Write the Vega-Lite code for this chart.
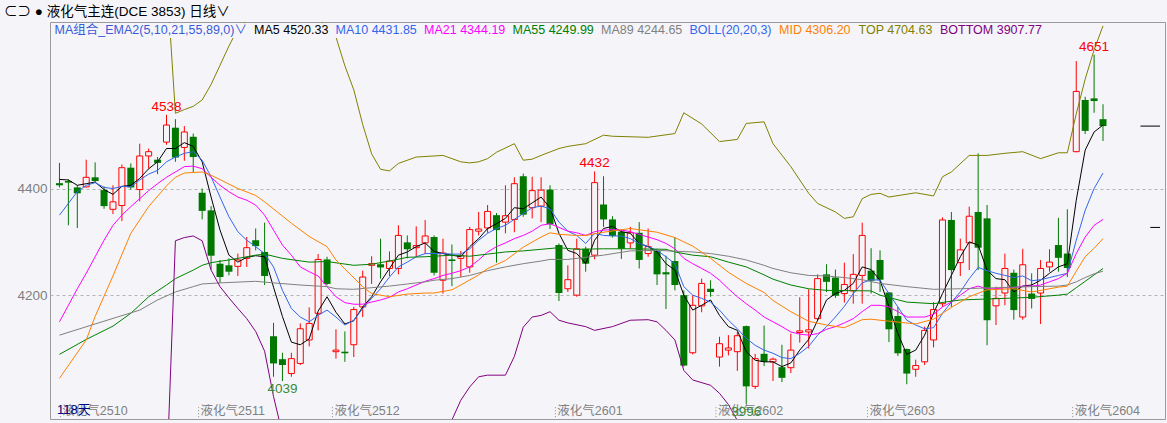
{
"$schema":"https://vega.github.io/schema/vega-lite/v6.json",
"width":1115,"height":397,
"autosize":{"type":"none"},
"padding":{"left":50,"top":22,"right":2,"bottom":4},
"background":"#f5f5f9",
"config":{"view":{"stroke":"#9a9a9a","fill":"#f5f5f9"},"font":"Liberation Sans, Noto Sans CJK SC",
 "axisY":{"title":null,"grid":true,"gridDash":[3,3],"gridColor":"#b4b4b4","domain":false,"ticks":false,"labelColor":"#808080","labelFontSize":13.5,"labelPadding":3,"labelFont":"Liberation Sans"}},
"title":{"text":"⊂⊃ ● 液化气主连(DCE 3853)  日线∨","anchor":"start","frame":"group","dx":-46,"dy":13,"offset":3,"fontSize":13.5,"fontWeight":"normal","font":"Liberation Sans, Noto Sans CJK SC","color":"#000000","baseline":"bottom"},
"datasets":{
"candles":[
{"i":0,"o":4410,"h":4448,"l":4402,"c":4406,"MA5":4417,"MA10":4350,"MA21":4150},
{"i":1,"o":4414,"h":4417,"l":4331,"c":4411,"MA5":4416,"MA10":4372,"MA21":4181},
{"i":2,"o":4402,"h":4406,"l":4326,"c":4391,"MA5":4406,"MA10":4394,"MA21":4212},
{"i":3,"o":4403,"h":4454,"l":4402,"c":4421,"MA5":4409,"MA10":4406,"MA21":4241},
{"i":4,"o":4421,"h":4449,"l":4412,"c":4414,"MA5":4412,"MA10":4411,"MA21":4272},
{"i":5,"o":4397,"h":4404,"l":4362,"c":4367,"MA5":4398,"MA10":4402,"MA21":4303},
{"i":6,"o":4361,"h":4406,"l":4352,"c":4375,"MA5":4389,"MA10":4400,"MA21":4331},
{"i":7,"o":4368,"h":4445,"l":4339,"c":4439,"MA5":4404,"MA10":4404,"MA21":4350},
{"i":8,"o":4439,"h":4447,"l":4398,"c":4402,"MA5":4406,"MA10":4403,"MA21":4366},
{"i":9,"o":4398,"h":4484,"l":4376,"c":4461,"MA5":4419,"MA10":4416,"MA21":4381},
{"i":10,"o":4461,"h":4475,"l":4437,"c":4469,"MA5":4437,"MA10":4427,"MA21":4396},
{"i":11,"o":4454,"h":4459,"l":4427,"c":4448,"MA5":4450,"MA10":4434,"MA21":4409},
{"i":12,"o":4487,"h":4538,"l":4482,"c":4519,"MA5":4475,"MA10":4450,"MA21":4421},
{"i":13,"o":4514,"h":4530,"l":4450,"c":4458,"MA5":4475,"MA10":4459,"MA21":4431},
{"i":14,"o":4477,"h":4517,"l":4452,"c":4506,"MA5":4486,"MA10":4466,"MA21":4441},
{"i":15,"o":4497,"h":4503,"l":4431,"c":4459,"MA5":4479,"MA10":4469,"MA21":4442},
{"i":16,"o":4392,"h":4400,"l":4342,"c":4358,"MA5":4450,"MA10":4453,"MA21":4437},
{"i":17,"o":4359,"h":4367,"l":4248,"c":4274,"MA5":4384,"MA10":4422,"MA21":4421},
{"i":18,"o":4259,"h":4266,"l":4223,"c":4234,"MA5":4322,"MA10":4384,"MA21":4406},
{"i":19,"o":4256,"h":4269,"l":4237,"c":4244,"MA5":4275,"MA10":4347,"MA21":4394},
{"i":20,"o":4254,"h":4278,"l":4236,"c":4266,"MA5":4262,"MA10":4319,"MA21":4384},
{"i":21,"o":4269,"h":4309,"l":4253,"c":4289,"MA5":4271,"MA10":4303,"MA21":4378},
{"i":22,"o":4303,"h":4325,"l":4284,"c":4292,"MA5":4274,"MA10":4291,"MA21":4369},
{"i":23,"o":4281,"h":4336,"l":4219,"c":4236,"MA5":4272,"MA10":4278,"MA21":4350},
{"i":24,"o":4123,"h":4148,"l":4047,"c":4072,"MA5":4215,"MA10":4253,"MA21":4322},
{"i":25,"o":4080,"h":4092,"l":4039,"c":4069,"MA5":4160,"MA10":4209,"MA21":4294},
{"i":26,"o":4053,"h":4092,"l":4047,"c":4081,"MA5":4112,"MA10":4175,"MA21":4275},
{"i":27,"o":4072,"h":4147,"l":4069,"c":4137,"MA5":4107,"MA10":4159,"MA21":4253},
{"i":28,"o":4116,"h":4177,"l":4104,"c":4147,"MA5":4118,"MA10":4150,"MA21":4244},
{"i":29,"o":4166,"h":4277,"l":4134,"c":4267,"MA5":4170,"MA10":4162,"MA21":4236},
{"i":30,"o":4267,"h":4272,"l":4219,"c":4221,"MA5":4197,"MA10":4172,"MA21":4216},
{"i":31,"o":4094,"h":4136,"l":4081,"c":4097,"MA5":4168,"MA10":4159,"MA21":4197},
{"i":32,"o":4094,"h":4132,"l":4075,"c":4091,"MA5":4146,"MA10":4144,"MA21":4186},
{"i":33,"o":4107,"h":4178,"l":4084,"c":4173,"MA5":4152,"MA10":4153,"MA21":4183},
{"i":34,"o":4178,"h":4246,"l":4159,"c":4234,"MA5":4178,"MA10":4175,"MA21":4183},
{"i":35,"o":4256,"h":4273,"l":4221,"c":4259,"MA5":4197,"MA10":4194,"MA21":4187},
{"i":36,"o":4258,"h":4306,"l":4231,"c":4252,"MA5":4225,"MA10":4212,"MA21":4191},
{"i":37,"o":4250,"h":4282,"l":4236,"c":4264,"MA5":4250,"MA10":4234,"MA21":4196},
{"i":38,"o":4250,"h":4331,"l":4239,"c":4312,"MA5":4275,"MA10":4253,"MA21":4206},
{"i":39,"o":4299,"h":4312,"l":4269,"c":4286,"MA5":4281,"MA10":4262,"MA21":4212},
{"i":40,"o":4289,"h":4329,"l":4272,"c":4293,"MA5":4291,"MA10":4272,"MA21":4219},
{"i":41,"o":4298,"h":4341,"l":4277,"c":4311,"MA5":4298,"MA10":4278,"MA21":4226},
{"i":42,"o":4309,"h":4312,"l":4237,"c":4242,"MA5":4282,"MA10":4278,"MA21":4231},
{"i":43,"o":4228,"h":4306,"l":4203,"c":4279,"MA5":4278,"MA10":4278,"MA21":4237},
{"i":44,"o":4267,"h":4295,"l":4217,"c":4264,"MA5":4275,"MA10":4277,"MA21":4241},
{"i":45,"o":4269,"h":4283,"l":4234,"c":4274,"MA5":4272,"MA10":4277,"MA21":4246},
{"i":46,"o":4253,"h":4328,"l":4242,"c":4323,"MA5":4291,"MA10":4287,"MA21":4253},
{"i":47,"o":4320,"h":4356,"l":4312,"c":4324,"MA5":4306,"MA10":4303,"MA21":4266},
{"i":48,"o":4326,"h":4369,"l":4317,"c":4357,"MA5":4325,"MA10":4316,"MA21":4281},
{"i":49,"o":4350,"h":4354,"l":4261,"c":4322,"MA5":4334,"MA10":4325,"MA21":4291},
{"i":50,"o":4337,"h":4406,"l":4316,"c":4349,"MA5":4344,"MA10":4331,"MA21":4298},
{"i":51,"o":4342,"h":4421,"l":4318,"c":4409,"MA5":4364,"MA10":4342,"MA21":4306},
{"i":52,"o":4423,"h":4428,"l":4347,"c":4351,"MA5":4362,"MA10":4353,"MA21":4312},
{"i":53,"o":4364,"h":4422,"l":4344,"c":4396,"MA5":4373,"MA10":4364,"MA21":4320},
{"i":54,"o":4367,"h":4421,"l":4337,"c":4397,"MA5":4384,"MA10":4367,"MA21":4331},
{"i":55,"o":4398,"h":4406,"l":4324,"c":4333,"MA5":4364,"MA10":4362,"MA21":4334},
{"i":56,"o":4294,"h":4297,"l":4189,"c":4204,"MA5":4316,"MA10":4337,"MA21":4327},
{"i":57,"o":4212,"h":4256,"l":4206,"c":4229,"MA5":4284,"MA10":4320,"MA21":4320},
{"i":58,"o":4200,"h":4306,"l":4197,"c":4287,"MA5":4278,"MA10":4312,"MA21":4317},
{"i":59,"o":4287,"h":4291,"l":4244,"c":4259,"MA5":4259,"MA10":4297,"MA21":4312},
{"i":60,"o":4275,"h":4432,"l":4267,"c":4411,"MA5":4303,"MA10":4316,"MA21":4319},
{"i":61,"o":4370,"h":4423,"l":4328,"c":4342,"MA5":4325,"MA10":4312,"MA21":4322},
{"i":62,"o":4342,"h":4348,"l":4308,"c":4311,"MA5":4329,"MA10":4311,"MA21":4323},
{"i":63,"o":4319,"h":4322,"l":4268,"c":4287,"MA5":4319,"MA10":4311,"MA21":4322},
{"i":64,"o":4298,"h":4328,"l":4287,"c":4317,"MA5":4316,"MA10":4306,"MA21":4319},
{"i":65,"o":4317,"h":4337,"l":4250,"c":4266,"MA5":4297,"MA10":4297,"MA21":4314},
{"i":66,"o":4278,"h":4325,"l":4272,"c":4291,"MA5":4291,"MA10":4291,"MA21":4309},
{"i":67,"o":4283,"h":4287,"l":4219,"c":4239,"MA5":4281,"MA10":4284,"MA21":4304},
{"i":68,"o":4243,"h":4274,"l":4174,"c":4239,"MA5":4259,"MA10":4272,"MA21":4297},
{"i":69,"o":4264,"h":4309,"l":4209,"c":4219,"MA5":4247,"MA10":4259,"MA21":4287},
{"i":70,"o":4200,"h":4209,"l":4066,"c":4068,"MA5":4200,"MA10":4216,"MA21":4269},
{"i":71,"o":4092,"h":4200,"l":4089,"c":4181,"MA5":4172,"MA10":4200,"MA21":4259},
{"i":72,"o":4180,"h":4231,"l":4168,"c":4222,"MA5":4181,"MA10":4194,"MA21":4250},
{"i":73,"o":4212,"h":4228,"l":4197,"c":4206,"MA5":4191,"MA10":4187,"MA21":4241},
{"i":74,"o":4084,"h":4122,"l":4066,"c":4109,"MA5":4162,"MA10":4172,"MA21":4228},
{"i":75,"o":4097,"h":4125,"l":4087,"c":4101,"MA5":4141,"MA10":4153,"MA21":4212},
{"i":76,"o":4094,"h":4131,"l":4058,"c":4124,"MA5":4134,"MA10":4137,"MA21":4197},
{"i":77,"o":4142,"h":4143,"l":3996,"c":4029,"MA5":4094,"MA10":4119,"MA21":4184},
{"i":78,"o":4029,"h":4090,"l":4024,"c":4081,"MA5":4078,"MA10":4106,"MA21":4172},
{"i":79,"o":4090,"h":4143,"l":4067,"c":4075,"MA5":4075,"MA10":4097,"MA21":4159},
{"i":80,"o":4075,"h":4083,"l":4039,"c":4080,"MA5":4075,"MA10":4091,"MA21":4150},
{"i":81,"o":4065,"h":4107,"l":4037,"c":4045,"MA5":4066,"MA10":4083,"MA21":4141},
{"i":82,"o":4064,"h":4128,"l":4054,"c":4097,"MA5":4073,"MA10":4081,"MA21":4131},
{"i":83,"o":4130,"h":4196,"l":4111,"c":4133,"MA5":4097,"MA10":4091,"MA21":4127},
{"i":84,"o":4131,"h":4211,"l":4100,"c":4135,"MA5":4117,"MA10":4104,"MA21":4125},
{"i":85,"o":4156,"h":4239,"l":4152,"c":4231,"MA5":4153,"MA10":4125,"MA21":4128},
{"i":86,"o":4239,"h":4258,"l":4206,"c":4225,"MA5":4191,"MA10":4141,"MA21":4136},
{"i":87,"o":4233,"h":4248,"l":4195,"c":4199,"MA5":4203,"MA10":4159,"MA21":4141},
{"i":88,"o":4203,"h":4261,"l":4186,"c":4220,"MA5":4209,"MA10":4179,"MA21":4148},
{"i":89,"o":4208,"h":4277,"l":4184,"c":4239,"MA5":4222,"MA10":4203,"MA21":4156},
{"i":90,"o":4237,"h":4336,"l":4184,"c":4312,"MA5":4253,"MA10":4223,"MA21":4169},
{"i":91,"o":4246,"h":4288,"l":4203,"c":4227,"MA5":4248,"MA10":4229,"MA21":4181},
{"i":92,"o":4266,"h":4284,"l":4206,"c":4229,"MA5":4228,"MA10":4228,"MA21":4181},
{"i":93,"o":4205,"h":4206,"l":4112,"c":4136,"MA5":4178,"MA10":4203,"MA21":4178},
{"i":94,"o":4161,"h":4178,"l":4086,"c":4091,"MA5":4128,"MA10":4178,"MA21":4169},
{"i":95,"o":4099,"h":4100,"l":4033,"c":4053,"MA5":4089,"MA10":4153,"MA21":4159},
{"i":96,"o":4061,"h":4079,"l":4047,"c":4068,"MA5":4097,"MA10":4144,"MA21":4159},
{"i":97,"o":4075,"h":4141,"l":4069,"c":4134,"MA5":4125,"MA10":4137,"MA21":4159},
{"i":98,"o":4116,"h":4187,"l":4102,"c":4173,"MA5":4166,"MA10":4139,"MA21":4164},
{"i":99,"o":4184,"h":4346,"l":4178,"c":4341,"MA5":4203,"MA10":4166,"MA21":4178},
{"i":100,"o":4341,"h":4356,"l":4178,"c":4247,"MA5":4237,"MA10":4187,"MA21":4187},
{"i":101,"o":4261,"h":4306,"l":4236,"c":4285,"MA5":4272,"MA10":4206,"MA21":4200},
{"i":102,"o":4298,"h":4366,"l":4247,"c":4348,"MA5":4300,"MA10":4231,"MA21":4212},
{"i":103,"o":4356,"h":4466,"l":4247,"c":4289,"MA5":4294,"MA10":4252,"MA21":4217},
{"i":104,"o":4344,"h":4369,"l":4106,"c":4153,"MA5":4247,"MA10":4246,"MA21":4212},
{"i":105,"o":4180,"h":4216,"l":4144,"c":4194,"MA5":4231,"MA10":4241,"MA21":4212},
{"i":106,"o":4204,"h":4278,"l":4181,"c":4250,"MA5":4229,"MA10":4237,"MA21":4214},
{"i":107,"o":4242,"h":4248,"l":4154,"c":4172,"MA5":4206,"MA10":4233,"MA21":4214},
{"i":108,"o":4159,"h":4287,"l":4154,"c":4257,"MA5":4217,"MA10":4236,"MA21":4217},
{"i":109,"o":4203,"h":4241,"l":4175,"c":4193,"MA5":4219,"MA10":4227,"MA21":4217},
{"i":110,"o":4204,"h":4266,"l":4146,"c":4250,"MA5":4228,"MA10":4229,"MA21":4219},
{"i":111,"o":4253,"h":4286,"l":4244,"c":4262,"MA5":4241,"MA10":4233,"MA21":4225},
{"i":112,"o":4294,"h":4345,"l":4244,"c":4270,"MA5":4253,"MA10":4237,"MA21":4231},
{"i":113,"o":4278,"h":4361,"l":4234,"c":4251,"MA5":4259,"MA10":4241,"MA21":4241},
{"i":114,"o":4469,"h":4639,"l":4468,"c":4582,"MA5":4378,"MA10":4303,"MA21":4278},
{"i":115,"o":4566,"h":4572,"l":4502,"c":4508,"MA5":4472,"MA10":4359,"MA21":4309},
{"i":116,"o":4569,"h":4651,"l":4542,"c":4564,"MA5":4506,"MA10":4400,"MA21":4331},
{"i":117,"o":4530,"h":4558,"l":4489,"c":4517,"MA5":4519,"MA10":4429,"MA21":4342}
],
"sparse":[
{"s":"MA55","i":0,"v":4089},{"s":"MA55","i":3,"v":4117},{"s":"MA55","i":6,"v":4142},{"s":"MA55","i":8,"v":4166},{"s":"MA55","i":10,"v":4197},{"s":"MA55","i":12,"v":4219},{"s":"MA55","i":13,"v":4231},{"s":"MA55","i":15,"v":4247},{"s":"MA55","i":16,"v":4256},{"s":"MA55","i":17,"v":4261},{"s":"MA55","i":19,"v":4266},{"s":"MA55","i":22,"v":4275},{"s":"MA55","i":23,"v":4277},{"s":"MA55","i":25,"v":4269},{"s":"MA55","i":28,"v":4262},{"s":"MA55","i":30,"v":4263},{"s":"MA55","i":33,"v":4256},{"s":"MA55","i":35,"v":4258},{"s":"MA55","i":37,"v":4264},{"s":"MA55","i":39,"v":4271},{"s":"MA55","i":41,"v":4272},{"s":"MA55","i":44,"v":4275},{"s":"MA55","i":46,"v":4273},{"s":"MA55","i":48,"v":4277},{"s":"MA55","i":50,"v":4281},{"s":"MA55","i":52,"v":4283},{"s":"MA55","i":54,"v":4286},{"s":"MA55","i":56,"v":4289},{"s":"MA55","i":58,"v":4286},{"s":"MA55","i":61,"v":4287},{"s":"MA55","i":64,"v":4287},{"s":"MA55","i":68,"v":4286},{"s":"MA55","i":69,"v":4281},{"s":"MA55","i":71,"v":4275},{"s":"MA55","i":73,"v":4272},{"s":"MA55","i":75,"v":4262},{"s":"MA55","i":77,"v":4253},{"s":"MA55","i":79,"v":4238},{"s":"MA55","i":80,"v":4230},{"s":"MA55","i":82,"v":4219},{"s":"MA55","i":84,"v":4212},{"s":"MA55","i":86,"v":4209},{"s":"MA55","i":91,"v":4208},{"s":"MA55","i":92,"v":4200},{"s":"MA55","i":95,"v":4187},{"s":"MA55","i":98,"v":4184},{"s":"MA55","i":101,"v":4191},{"s":"MA55","i":106,"v":4194},{"s":"MA55","i":109,"v":4196},{"s":"MA55","i":112,"v":4200},{"s":"MA55","i":113,"v":4202},{"s":"MA55","i":114,"v":4214},{"s":"MA55","i":115,"v":4226},{"s":"MA55","i":116,"v":4238},{"s":"MA55","i":117,"v":4250},
{"s":"MA89","i":0,"v":4125},{"s":"MA89","i":4,"v":4146},{"s":"MA89","i":9,"v":4172},{"s":"MA89","i":11,"v":4191},{"s":"MA89","i":13,"v":4206},{"s":"MA89","i":15,"v":4216},{"s":"MA89","i":16,"v":4221},{"s":"MA89","i":18,"v":4223},{"s":"MA89","i":22,"v":4226},{"s":"MA89","i":24,"v":4223},{"s":"MA89","i":27,"v":4219},{"s":"MA89","i":30,"v":4216},{"s":"MA89","i":31,"v":4212},{"s":"MA89","i":33,"v":4211},{"s":"MA89","i":35,"v":4214},{"s":"MA89","i":37,"v":4217},{"s":"MA89","i":39,"v":4221},{"s":"MA89","i":41,"v":4225},{"s":"MA89","i":42,"v":4228},{"s":"MA89","i":44,"v":4231},{"s":"MA89","i":46,"v":4237},{"s":"MA89","i":48,"v":4246},{"s":"MA89","i":50,"v":4253},{"s":"MA89","i":52,"v":4259},{"s":"MA89","i":54,"v":4264},{"s":"MA89","i":55,"v":4267},{"s":"MA89","i":57,"v":4267},{"s":"MA89","i":59,"v":4271},{"s":"MA89","i":61,"v":4275},{"s":"MA89","i":64,"v":4283},{"s":"MA89","i":67,"v":4284},{"s":"MA89","i":71,"v":4281},{"s":"MA89","i":73,"v":4278},{"s":"MA89","i":75,"v":4273},{"s":"MA89","i":77,"v":4266},{"s":"MA89","i":79,"v":4256},{"s":"MA89","i":80,"v":4250},{"s":"MA89","i":82,"v":4242},{"s":"MA89","i":84,"v":4237},{"s":"MA89","i":86,"v":4236},{"s":"MA89","i":88,"v":4233},{"s":"MA89","i":90,"v":4229},{"s":"MA89","i":92,"v":4222},{"s":"MA89","i":95,"v":4216},{"s":"MA89","i":98,"v":4211},{"s":"MA89","i":101,"v":4212},{"s":"MA89","i":105,"v":4214},{"s":"MA89","i":109,"v":4216},{"s":"MA89","i":112,"v":4217},{"s":"MA89","i":113,"v":4219},{"s":"MA89","i":114,"v":4225},{"s":"MA89","i":115,"v":4233},{"s":"MA89","i":116,"v":4240},{"s":"MA89","i":117,"v":4245},
{"s":"MID","i":0,"v":4044},{"s":"MID","i":3,"v":4116},{"s":"MID","i":4,"v":4160},{"s":"MID","i":5,"v":4198},{"s":"MID","i":6,"v":4236},{"s":"MID","i":8,"v":4316},{"s":"MID","i":10,"v":4366},{"s":"MID","i":12,"v":4405},{"s":"MID","i":13,"v":4421},{"s":"MID","i":14,"v":4429},{"s":"MID","i":16,"v":4431},{"s":"MID","i":17,"v":4425},{"s":"MID","i":20,"v":4400},{"s":"MID","i":22,"v":4387},{"s":"MID","i":23,"v":4375},{"s":"MID","i":26,"v":4335},{"s":"MID","i":28,"v":4310},{"s":"MID","i":30,"v":4291},{"s":"MID","i":31,"v":4266},{"s":"MID","i":32,"v":4249},{"s":"MID","i":34,"v":4216},{"s":"MID","i":35,"v":4203},{"s":"MID","i":37,"v":4197},{"s":"MID","i":39,"v":4202},{"s":"MID","i":41,"v":4204},{"s":"MID","i":42,"v":4204},{"s":"MID","i":44,"v":4210},{"s":"MID","i":45,"v":4219},{"s":"MID","i":47,"v":4238},{"s":"MID","i":48,"v":4250},{"s":"MID","i":50,"v":4265},{"s":"MID","i":52,"v":4290},{"s":"MID","i":54,"v":4309},{"s":"MID","i":55,"v":4317},{"s":"MID","i":56,"v":4314},{"s":"MID","i":58,"v":4312},{"s":"MID","i":59,"v":4312},{"s":"MID","i":61,"v":4318},{"s":"MID","i":64,"v":4325},{"s":"MID","i":67,"v":4318},{"s":"MID","i":69,"v":4308},{"s":"MID","i":71,"v":4292},{"s":"MID","i":73,"v":4269},{"s":"MID","i":75,"v":4243},{"s":"MID","i":77,"v":4222},{"s":"MID","i":79,"v":4205},{"s":"MID","i":80,"v":4190},{"s":"MID","i":82,"v":4169},{"s":"MID","i":84,"v":4151},{"s":"MID","i":86,"v":4144},{"s":"MID","i":88,"v":4139},{"s":"MID","i":90,"v":4154},{"s":"MID","i":91,"v":4155},{"s":"MID","i":92,"v":4153},{"s":"MID","i":96,"v":4146},{"s":"MID","i":98,"v":4155},{"s":"MID","i":100,"v":4177},{"s":"MID","i":102,"v":4197},{"s":"MID","i":104,"v":4210},{"s":"MID","i":107,"v":4212},{"s":"MID","i":109,"v":4206},{"s":"MID","i":112,"v":4215},{"s":"MID","i":113,"v":4217},{"s":"MID","i":114,"v":4245},{"s":"MID","i":115,"v":4272},{"s":"MID","i":116,"v":4288},{"s":"MID","i":117,"v":4306},
{"s":"TOP","i":12,"v":4800},{"s":"TOP","i":13,"v":4541},{"s":"TOP","i":14,"v":4548},{"s":"TOP","i":15,"v":4554},{"s":"TOP","i":16,"v":4566},{"s":"TOP","i":17,"v":4595},{"s":"TOP","i":18,"v":4631},{"s":"TOP","i":19,"v":4667},{"s":"TOP","i":20,"v":4700},{"s":"TOP","i":22,"v":4730},{"s":"TOP","i":26,"v":4740},{"s":"TOP","i":29,"v":4720},{"s":"TOP","i":31,"v":4684},{"s":"TOP","i":32,"v":4630},{"s":"TOP","i":33,"v":4585},{"s":"TOP","i":34,"v":4520},{"s":"TOP","i":35,"v":4465},{"s":"TOP","i":36,"v":4436},{"s":"TOP","i":37,"v":4433},{"s":"TOP","i":38,"v":4447},{"s":"TOP","i":40,"v":4459},{"s":"TOP","i":42,"v":4461},{"s":"TOP","i":43,"v":4462},{"s":"TOP","i":45,"v":4450},{"s":"TOP","i":46,"v":4448},{"s":"TOP","i":47,"v":4450},{"s":"TOP","i":48,"v":4456},{"s":"TOP","i":49,"v":4468},{"s":"TOP","i":51,"v":4484},{"s":"TOP","i":52,"v":4453},{"s":"TOP","i":53,"v":4455},{"s":"TOP","i":54,"v":4462},{"s":"TOP","i":56,"v":4475},{"s":"TOP","i":57,"v":4479},{"s":"TOP","i":59,"v":4484},{"s":"TOP","i":61,"v":4500},{"s":"TOP","i":62,"v":4498},{"s":"TOP","i":66,"v":4496},{"s":"TOP","i":69,"v":4503},{"s":"TOP","i":70,"v":4542},{"s":"TOP","i":72,"v":4521},{"s":"TOP","i":74,"v":4488},{"s":"TOP","i":76,"v":4492},{"s":"TOP","i":77,"v":4522},{"s":"TOP","i":79,"v":4525},{"s":"TOP","i":80,"v":4484},{"s":"TOP","i":82,"v":4441},{"s":"TOP","i":84,"v":4391},{"s":"TOP","i":85,"v":4372},{"s":"TOP","i":87,"v":4356},{"s":"TOP","i":88,"v":4344},{"s":"TOP","i":89,"v":4347},{"s":"TOP","i":90,"v":4381},{"s":"TOP","i":91,"v":4389},{"s":"TOP","i":92,"v":4391},{"s":"TOP","i":93,"v":4384},{"s":"TOP","i":96,"v":4392},{"s":"TOP","i":98,"v":4386},{"s":"TOP","i":99,"v":4422},{"s":"TOP","i":100,"v":4431},{"s":"TOP","i":102,"v":4462},{"s":"TOP","i":104,"v":4462},{"s":"TOP","i":106,"v":4466},{"s":"TOP","i":108,"v":4469},{"s":"TOP","i":110,"v":4456},{"s":"TOP","i":112,"v":4467},{"s":"TOP","i":113,"v":4467},{"s":"TOP","i":114,"v":4540},{"s":"TOP","i":115,"v":4605},{"s":"TOP","i":116,"v":4660},{"s":"TOP","i":117,"v":4705},
{"s":"BOTTOM","i":12,"v":3850},{"s":"BOTTOM","i":13,"v":4302},{"s":"BOTTOM","i":14,"v":4308},{"s":"BOTTOM","i":15,"v":4311},{"s":"BOTTOM","i":16,"v":4302},{"s":"BOTTOM","i":17,"v":4247},{"s":"BOTTOM","i":18,"v":4216},{"s":"BOTTOM","i":19,"v":4195},{"s":"BOTTOM","i":20,"v":4175},{"s":"BOTTOM","i":21,"v":4156},{"s":"BOTTOM","i":22,"v":4132},{"s":"BOTTOM","i":23,"v":4095},{"s":"BOTTOM","i":24,"v":4010},{"s":"BOTTOM","i":25,"v":3940},{"s":"BOTTOM","i":28,"v":3880},{"s":"BOTTOM","i":32,"v":3860},{"s":"BOTTOM","i":36,"v":3870},{"s":"BOTTOM","i":40,"v":3900},{"s":"BOTTOM","i":43,"v":3950},{"s":"BOTTOM","i":44,"v":3966},{"s":"BOTTOM","i":45,"v":4003},{"s":"BOTTOM","i":46,"v":4028},{"s":"BOTTOM","i":47,"v":4047},{"s":"BOTTOM","i":48,"v":4050},{"s":"BOTTOM","i":50,"v":4050},{"s":"BOTTOM","i":51,"v":4085},{"s":"BOTTOM","i":52,"v":4140},{"s":"BOTTOM","i":53,"v":4159},{"s":"BOTTOM","i":54,"v":4162},{"s":"BOTTOM","i":55,"v":4169},{"s":"BOTTOM","i":56,"v":4153},{"s":"BOTTOM","i":57,"v":4148},{"s":"BOTTOM","i":59,"v":4141},{"s":"BOTTOM","i":60,"v":4134},{"s":"BOTTOM","i":62,"v":4141},{"s":"BOTTOM","i":64,"v":4153},{"s":"BOTTOM","i":66,"v":4154},{"s":"BOTTOM","i":67,"v":4150},{"s":"BOTTOM","i":68,"v":4134},{"s":"BOTTOM","i":69,"v":4116},{"s":"BOTTOM","i":70,"v":4059},{"s":"BOTTOM","i":71,"v":4041},{"s":"BOTTOM","i":73,"v":4031},{"s":"BOTTOM","i":74,"v":4016},{"s":"BOTTOM","i":75,"v":3995},{"s":"BOTTOM","i":76,"v":3965},{"s":"BOTTOM","i":77,"v":3940},{"s":"BOTTOM","i":80,"v":3910},{"s":"BOTTOM","i":85,"v":3890},{"s":"BOTTOM","i":90,"v":3900},{"s":"BOTTOM","i":95,"v":3920},{"s":"BOTTOM","i":100,"v":3925},{"s":"BOTTOM","i":105,"v":3930},{"s":"BOTTOM","i":110,"v":3925},{"s":"BOTTOM","i":114,"v":3915},{"s":"BOTTOM","i":117,"v":3908}
],
"contracts":[
{"i":0.1,"t":"液化气2510"},{"i":15.6,"t":"液化气2511"},{"i":30.6,"t":"液化气2512"},{"i":55.6,"t":"液化气2601"},{"i":73.6,"t":"液化气2602"},{"i":90.6,"t":"液化气2603"},{"i":113.6,"t":"液化气2604"}
],
"extremes":[
{"i":12,"v":4538,"t":"4538","k":"high"},{"i":60,"v":4432,"t":"4432","k":"high"},{"i":116,"v":4651,"t":"4651","k":"high"},{"i":25,"v":4039,"t":"4039","k":"low"},{"i":77,"v":3996,"t":"3996","k":"low"}
],
"markers":[{"a":121.2,"b":123.39,"v":4517},{"a":122.3,"b":123.39,"v":4327}],
"days":[{"i":0,"t":"118天"}]
},
"layer":[
{"data":{"name":"contracts"},"mark":{"type":"rule","color":"#8c8c8c","strokeDash":[1,2],"strokeWidth":1},
 "encoding":{"x":{"field":"i","type":"quantitative","scale":{"domain":[-0.5,123.3889],"nice":false,"zero":false},"axis":null},
  "y":{"datum":3990,"type":"quantitative","scale":{"domain":[3967.8,4712.2],"nice":false,"zero":false},"axis":{"values":[4200,4400],"format":"d"}},
  "y2":{"datum":3967.8}}},
{"data":{"name":"candles"},"mark":{"type":"rule","strokeWidth":1},
 "encoding":{"x":{"field":"i","type":"quantitative","scale":{"domain":[-0.5,123.3889],"nice":false,"zero":false},"axis":null},
  "y":{"field":"l","type":"quantitative","scale":{"domain":[3967.8,4712.2],"nice":false,"zero":false},"axis":{"values":[4200,4400],"format":"d"}},
  "y2":{"field":"h"},
  "color":{"condition":{"test":"datum.c >= datum.o","value":"#ff0000"},"value":"#007800"}}},
{"data":{"name":"candles"},"transform":[{"filter":"datum.c >= datum.o"}],
 "mark":{"type":"bar","size":6,"fill":"#f5f5f9","stroke":"#ff0000","strokeWidth":1},
 "encoding":{"x":{"field":"i","type":"quantitative","scale":{"domain":[-0.5,123.3889],"nice":false,"zero":false},"axis":null},
  "y":{"field":"o","type":"quantitative","scale":{"domain":[3967.8,4712.2],"nice":false,"zero":false},"axis":{"values":[4200,4400],"format":"d"}},
  "y2":{"field":"c"}}},
{"data":{"name":"candles"},"transform":[{"filter":"datum.c < datum.o"}],
 "mark":{"type":"bar","size":7,"fill":"#007800"},
 "encoding":{"x":{"field":"i","type":"quantitative","scale":{"domain":[-0.5,123.3889],"nice":false,"zero":false},"axis":null},
  "y":{"field":"o","type":"quantitative","scale":{"domain":[3967.8,4712.2],"nice":false,"zero":false},"axis":{"values":[4200,4400],"format":"d"}},
  "y2":{"field":"c"}}},
{"data":{"name":"candles"},"transform":[{"fold":["MA5","MA10","MA21"],"as":["s","v"]}],
 "mark":{"type":"line","strokeWidth":1,"clip":true},
 "encoding":{"x":{"field":"i","type":"quantitative","scale":{"domain":[-0.5,123.3889],"nice":false,"zero":false},"axis":null},
  "y":{"field":"v","type":"quantitative","scale":{"domain":[3967.8,4712.2],"nice":false,"zero":false},"axis":{"values":[4200,4400],"format":"d"}},
  "color":{"field":"s","type":"nominal",
   "scale":{"domain":["HDR","MA5","MA10","MA21","MA55","MA89","BOLL","MID","TOP","BOTTOM"],"range":["#3a5bd9","#000000","#3366ee","#ff00ff","#008000","#808080","#3366ee","#ff8000","#808000","#800080"]},
   "legend":{"orient":"none","legendX":4,"legendY":1,"direction":"horizontal","columns":10,"title":null,"symbolSize":0,"symbolOpacity":0,"symbolStrokeWidth":0,"symbolType":"circle","labelOffset":-13,"columnPadding":6.5,"padding":1,"fillColor":"#f5f5f9","labelFont":"Liberation Sans, Noto Sans CJK SC","labelFontSize":12.5,"labelLimit":500,
    "labelExpr":"{'HDR':'MA组合_EMA2(5,10,21,55,89,0)∨','MA5':'MA5 4520.33','MA10':'MA10 4431.85','MA21':'MA21 4344.19','MA55':'MA55 4249.99','MA89':'MA89 4244.65','BOLL':'BOLL(20,20,3)','MID':'MID 4306.20','TOP':'TOP 4704.63','BOTTOM':'BOTTOM 3907.77'}[datum.value]",
    "encode":{"labels":{"update":{"fill":{"signal":"scale('color', datum.value)"}}}}}},
  "detail":{"field":"s"}}},
{"data":{"name":"sparse"},
 "mark":{"type":"line","strokeWidth":1,"clip":true},
 "encoding":{"x":{"field":"i","type":"quantitative","scale":{"domain":[-0.5,123.3889],"nice":false,"zero":false},"axis":null},
  "y":{"field":"v","type":"quantitative","scale":{"domain":[3967.8,4712.2],"nice":false,"zero":false},"axis":{"values":[4200,4400],"format":"d"}},
  "color":{"field":"s","type":"nominal",
   "scale":{"domain":["HDR","MA5","MA10","MA21","MA55","MA89","BOLL","MID","TOP","BOTTOM"],"range":["#3a5bd9","#000000","#3366ee","#ff00ff","#008000","#808080","#3366ee","#ff8000","#808000","#800080"]},
   "legend":{"orient":"none","legendX":4,"legendY":1,"direction":"horizontal","columns":10,"title":null,"symbolSize":0,"symbolOpacity":0,"symbolStrokeWidth":0,"symbolType":"circle","labelOffset":-13,"columnPadding":6.5,"padding":1,"fillColor":"#f5f5f9","labelFont":"Liberation Sans, Noto Sans CJK SC","labelFontSize":12.5,"labelLimit":500,
    "labelExpr":"{'HDR':'MA组合_EMA2(5,10,21,55,89,0)∨','MA5':'MA5 4520.33','MA10':'MA10 4431.85','MA21':'MA21 4344.19','MA55':'MA55 4249.99','MA89':'MA89 4244.65','BOLL':'BOLL(20,20,3)','MID':'MID 4306.20','TOP':'TOP 4704.63','BOTTOM':'BOTTOM 3907.77'}[datum.value]",
    "encode":{"labels":{"update":{"fill":{"signal":"scale('color', datum.value)"}}}}}},
  "detail":{"field":"s"}}},
{"data":{"name":"contracts"},"mark":{"type":"text","align":"left","baseline":"middle","dx":2,"fontSize":12.5,"color":"#808080","font":"Liberation Sans, Noto Sans CJK SC"},
 "encoding":{"x":{"field":"i","type":"quantitative","scale":{"domain":[-0.5,123.3889],"nice":false,"zero":false},"axis":null},
  "y":{"datum":3982.5,"type":"quantitative","scale":{"domain":[3967.8,4712.2],"nice":false,"zero":false},"axis":{"values":[4200,4400],"format":"d"}},
  "text":{"field":"t"}}},
{"data":{"name":"days"},"mark":{"type":"text","align":"left","baseline":"middle","dx":-2.5,"fontSize":13,"color":"#000080","font":"Liberation Sans, Noto Sans CJK SC"},
 "encoding":{"x":{"field":"i","type":"quantitative","scale":{"domain":[-0.5,123.3889],"nice":false,"zero":false},"axis":null},
  "y":{"datum":3985,"type":"quantitative","scale":{"domain":[3967.8,4712.2],"nice":false,"zero":false},"axis":{"values":[4200,4400],"format":"d"}},
  "text":{"field":"t"}}},
{"data":{"name":"extremes"},"transform":[{"filter":"datum.k == 'high'"}],
 "mark":{"type":"text","align":"center","baseline":"bottom","dy":-1,"fontSize":13.5,"color":"#ff0000","font":"Liberation Sans"},
 "encoding":{"x":{"field":"i","type":"quantitative","scale":{"domain":[-0.5,123.3889],"nice":false,"zero":false},"axis":null},
  "y":{"field":"v","type":"quantitative","scale":{"domain":[3967.8,4712.2],"nice":false,"zero":false},"axis":{"values":[4200,4400],"format":"d"}},
  "text":{"field":"t"}}},
{"data":{"name":"extremes"},"transform":[{"filter":"datum.k == 'low'"}],
 "mark":{"type":"text","align":"center","baseline":"top","dy":1,"fontSize":13.5,"color":"#3a8a3a","font":"Liberation Sans"},
 "encoding":{"x":{"field":"i","type":"quantitative","scale":{"domain":[-0.5,123.3889],"nice":false,"zero":false},"axis":null},
  "y":{"field":"v","type":"quantitative","scale":{"domain":[3967.8,4712.2],"nice":false,"zero":false},"axis":{"values":[4200,4400],"format":"d"}},
  "text":{"field":"t"}}},
{"data":{"name":"markers"},"mark":{"type":"rule","color":"#000000","strokeWidth":1},
 "encoding":{"x":{"field":"a","type":"quantitative","scale":{"domain":[-0.5,123.3889],"nice":false,"zero":false},"axis":null},
  "x2":{"field":"b"},
  "y":{"field":"v","type":"quantitative","scale":{"domain":[3967.8,4712.2],"nice":false,"zero":false},"axis":{"values":[4200,4400],"format":"d"}}}}
]
}
